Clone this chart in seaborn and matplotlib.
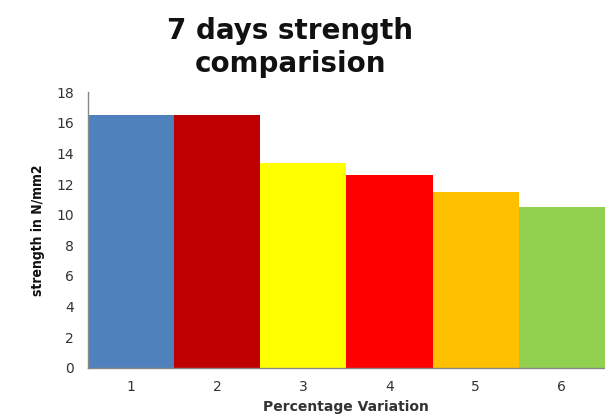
import matplotlib
matplotlib.use('Agg')
import matplotlib.pyplot as plt
import seaborn as sns
import pandas as pd

variation = ['1', '2', '3', '4', '5', '6']
strength = [16.5, 16.5, 13.4, 12.6, 11.5, 10.5]
bar_colors = ['#4f81bd', '#c00000', '#ffff00', '#ff0000', '#ffc000', '#92d050']

df = pd.DataFrame({'variation': variation, 'strength': strength})

sns.set_style('white')
plt.rcParams['font.family'] = ['DejaVu Sans']

fig = plt.figure(figsize=(6.05, 4.19), dpi=100)
ax = fig.add_axes([0.145, 0.122, 0.855, 0.658])

sns.barplot(data=df, x='variation', y='strength', hue='variation',
            palette=bar_colors, width=1.0, legend=False, ax=ax,
            saturation=1.0, edgecolor='none')

ax.set_ylim(0, 18)
ax.set_yticks(range(0, 19, 2))
ax.set_xlim(-0.5, 5.5)
ax.tick_params(axis='y', length=4, color='#888888', labelsize=10, labelcolor='#333333', pad=6)
ax.tick_params(axis='x', length=0, labelsize=10, labelcolor='#333333', pad=9)
for s in ['top', 'right']:
    ax.spines[s].set_visible(False)
for s in ['left', 'bottom']:
    ax.spines[s].set_color('#888888')
    ax.spines[s].set_linewidth(1)

ax.set_xlabel('Percentage Variation', fontsize=10, fontweight='bold', color='#333333', labelpad=4)
ax.set_ylabel('strength in N/mm2', fontsize=10, fontweight='bold', fontstretch='condensed',
              family=['DejaVu Sans'], color='#111111', labelpad=8)

fig.text(0.48, 0.96, '7 days strength\ncomparision', ha='center', va='top',
         fontsize=20, fontweight='bold', color='#111111', linespacing=1.25)

fig.savefig('out.png', dpi=100)
